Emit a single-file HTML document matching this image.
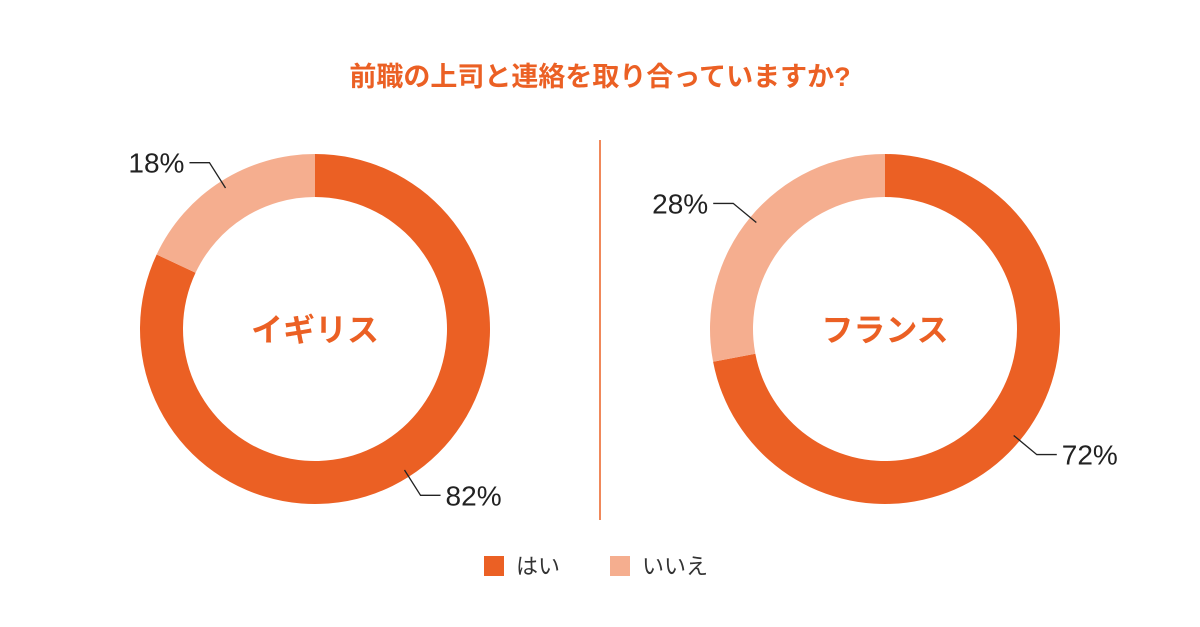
<!DOCTYPE html>
<html><head><meta charset="utf-8"><style>
body{margin:0;background:#fff;}
svg{display:block;font-family:"Liberation Sans","Noto Sans CJK JP",sans-serif;}
</style></head><body>
<svg id="c" width="1200" height="627" viewBox="0 0 1200 627">
<text x="600" y="86" text-anchor="middle" font-size="27" font-weight="bold" fill="#EB6024">前職の上司と連絡を取り合っていますか?</text>
<line x1="600" y1="140" x2="600" y2="520" stroke="#EB6024" stroke-width="1.5"/>
<g id="charts"></g>
<g>
<rect x="484" y="556" width="20" height="20" fill="#EB6024"/>
<text x="516" y="574" font-size="22" fill="#333">はい</text>
<rect x="610" y="556" width="20" height="20" fill="#F5AE8F"/>
<text x="642" y="574" font-size="22" fill="#333">いいえ</text>
</g>
</svg>
<script>
const countries = ["イギリス", "フランス"];
const yesValues = [82, 72];
const noValues = [18, 28];
const centersX = [315, 885];
const cy = 329, R = 175, r = 132;
const colors = ["#EB6024", "#F5AE8F"];
const NS = "http://www.w3.org/2000/svg";
const g = document.getElementById("charts");
function pt(cx, rad, frac){const a=frac*2*Math.PI-Math.PI/2;return [cx+rad*Math.cos(a), cy+rad*Math.sin(a)];}
function arc(cx, f0, f1){
  const large=(f1-f0)>0.5?1:0;
  const [x0,y0]=pt(cx,R,f0),[x1,y1]=pt(cx,R,f1),[x2,y2]=pt(cx,r,f1),[x3,y3]=pt(cx,r,f0);
  return `M${x0},${y0}A${R},${R} 0 ${large} 1 ${x1},${y1}L${x2},${y2}A${r},${r} 0 ${large} 0 ${x3},${y3}Z`;
}
function mk(tag, attrs){const e=document.createElementNS(NS,tag);for(const k in attrs)e.setAttribute(k,attrs[k]);g.appendChild(e);return e;}
countries.forEach((name,i)=>{
  const cx=centersX[i];
  const tot=yesValues[i]+noValues[i];
  const fy=yesValues[i]/tot;
  const p1=mk("path",{d:arc(cx,0,fy),fill:colors[0]});
  
  
  const p2=mk("path",{d:arc(cx,fy,1),fill:colors[1]});
  
  
  const t=mk("text",{x:cx,y:cy+12,"text-anchor":"middle","font-size":"32","font-weight":"bold",fill:"#EB6024"});
  t.textContent=name;
  
  
  // leaders
  [[fy/2,yesValues[i]],[fy+(1-fy)/2,noValues[i]]].forEach(([fm,v],j)=>{
    const [ax,ay]=pt(cx,R-8,fm);const [bx,by]=pt(cx,R+22,fm);
    const right=bx>cx;
    const ex=bx+(right?20:-20);
    const l=mk("polyline",{points:`${ax},${ay} ${bx},${by} ${ex},${by}`,fill:"none",stroke:"#222","stroke-width":"1.3"});
    
    
    const tx=mk("text",{x:ex+(right?5:-5),y:by+10,"text-anchor":right?"start":"end","font-size":"28",fill:"#222"});
    tx.textContent=v+"%";
    
    
  });
});
</script>
</body></html>
